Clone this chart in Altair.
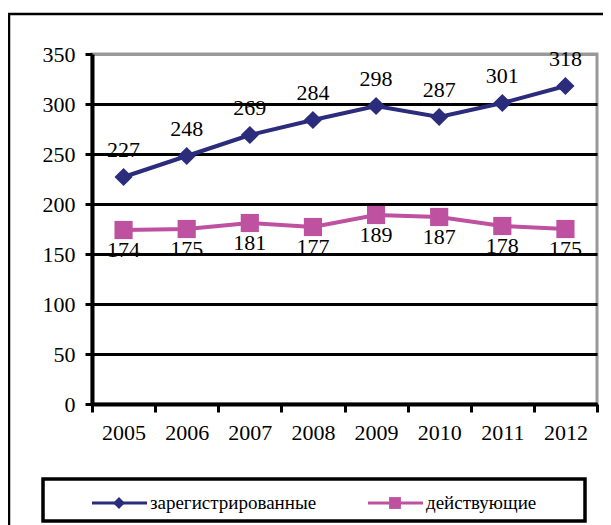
import altair as alt
import pandas as pd

years = ["2005", "2006", "2007", "2008", "2009", "2010", "2011", "2012"]
registered = [227, 248, 269, 284, 298, 287, 301, 318]
active = [174, 175, 181, 177, 189, 187, 178, 175]
series_names = ["зарегистрированные", "действующие"]
series_colors = ["#2B2C7C", "#BE51A0"]
series_shapes = ["diamond", "square"]
y_ticks = [0, 50, 100, 150, 200, 250, 300, 350]

rows = []
for s, vals in zip(series_names, [registered, active]):
    for yr, v in zip(years, vals):
        rows.append({"year": yr, "series": s, "value": v})
df = pd.DataFrame(rows)
leg_df = pd.DataFrame({"series": series_names})

FONT = "Liberation Serif"

color_scale = alt.Scale(domain=series_names, range=series_colors)
shape_scale = alt.Scale(domain=series_names, range=series_shapes)

x_enc = alt.X(
    "year:N", sort=years,
    scale=alt.Scale(type="band", paddingInner=0, paddingOuter=0),
    axis=alt.Axis(title=None, labelAngle=0, tickBand="extent", tickSize=8,
                  tickWidth=3, domainWidth=4, labelPadding=10, grid=False),
)
y_enc = alt.Y(
    "value:Q", scale=alt.Scale(domain=[0, 350], nice=False, zero=True),
    axis=alt.Axis(title=None, values=y_ticks, tickSize=7, tickWidth=3,
                  domainWidth=4, labelPadding=10, grid=True, gridWidth=3,
                  gridColor={"condition": {"test": "datum.value === 350", "value": "#999999"},
                             "value": "black"}),
)
col = alt.Color("series:N", scale=color_scale, legend=None)
shp = alt.Shape("series:N", scale=shape_scale, legend=None)

base = alt.Chart(df)

frame = alt.Chart(pd.DataFrame({"a": [0]})).mark_rect(
    fill="transparent", stroke="black", strokeWidth=2.5
).encode(x=alt.value(-83), x2=alt.value(700), y=alt.value(-40), y2=alt.value(700))

legend_box = alt.Chart(pd.DataFrame({"a": [0]})).mark_rect(
    fill="transparent", stroke="black", strokeWidth=3.5
).encode(x=alt.value(-49), x2=alt.value(493), y=alt.value(425), y2=alt.value(467))

text_reg = base.transform_filter(alt.datum.series == series_names[0]).mark_text(
    font=FONT, fontSize=22, color="black", dy=-27, baseline="middle"
).encode(x=x_enc, y=y_enc, text="value:Q")

text_act = base.transform_filter(alt.datum.series == series_names[1]).mark_text(
    font=FONT, fontSize=22, color="black", dy=20, baseline="middle"
).encode(x=x_enc, y=y_enc, text="value:Q")

lines = base.mark_line(strokeWidth=4).encode(x=x_enc, y=y_enc, color=col, detail="series:N")
points = base.mark_point(filled=True, size=330, opacity=1).encode(
    x=x_enc, y=y_enc, color=col, shape=shp)

layers = [frame, legend_box, text_reg, text_act, lines, points]

LEG_Y = 449
leg_x0 = [0, 276]
for name, x0 in zip(series_names, leg_x0):
    sub = alt.Chart(leg_df).transform_filter(alt.datum.series == name)
    layers.append(sub.mark_rule(strokeWidth=3).encode(
        x=alt.value(x0), x2=alt.value(x0 + 55), y=alt.value(LEG_Y), color=col))
    layers.append(sub.mark_point(filled=True, size=140, opacity=1).encode(
        x=alt.value(x0 + 27), y=alt.value(LEG_Y), color=col, shape=shp))
    layers.append(sub.mark_text(align="left", baseline="middle", font=FONT,
                                fontSize=19, color="black").encode(
        x=alt.value(x0 + 58), y=alt.value(LEG_Y), text="series:N"))

chart = alt.layer(*layers).properties(
    width=505, height=350,
    autosize=alt.AutoSizeParams(type="none"),
    padding={"left": 84, "top": 46, "right": 6, "bottom": 121},
    background="white",
).configure_axis(
    labelFont=FONT, labelFontSize=22, labelColor="black",
    domainColor="black", tickColor="black",
).configure_view(stroke="#999999", strokeWidth=3)

chart.save("out.html", embed_options={"renderer": "svg", "actions": False})
